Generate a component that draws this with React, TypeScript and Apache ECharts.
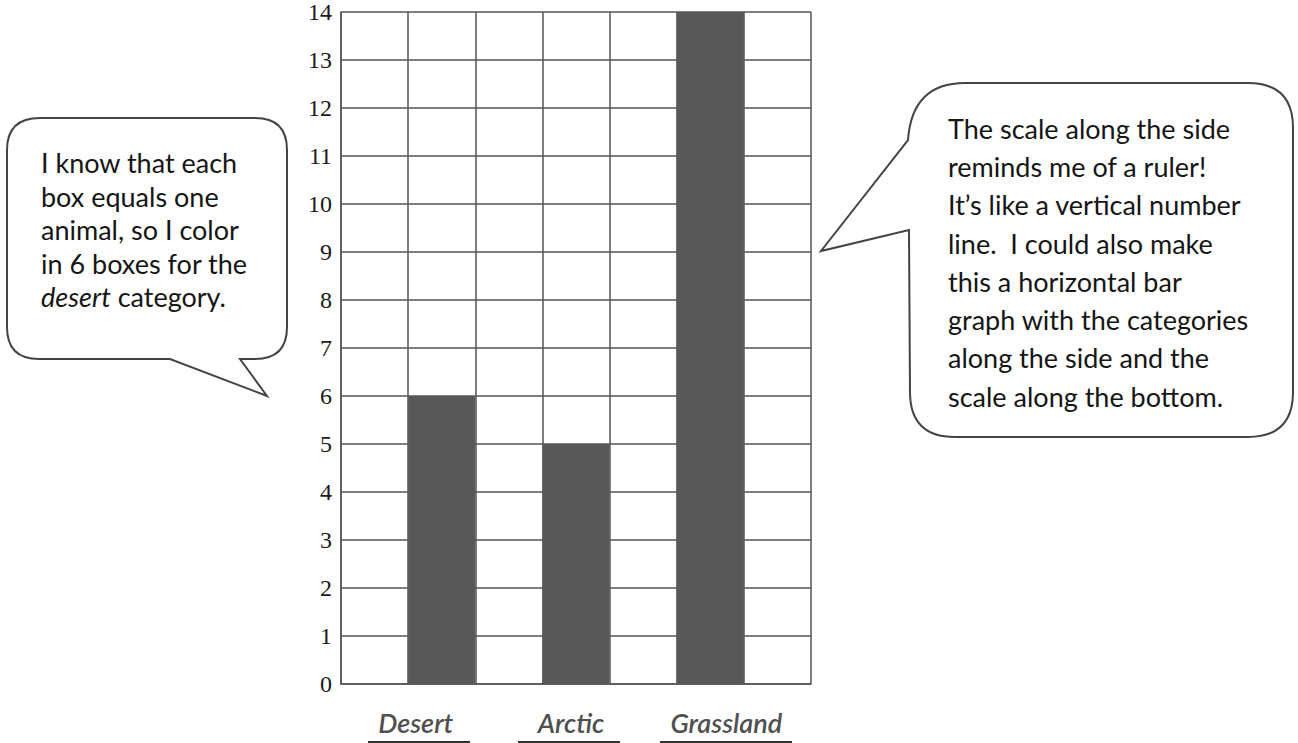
import React, { useEffect, useRef } from "react";
import * as echarts from "echarts";

const categories = ["", "Desert", "", "Arctic", "", "Grassland", ""];
const animalCounts: (number | string)[] = ["-", 6, "-", 5, "-", 14, "-"];
const yTicks = { min: 0, max: 14, interval: 1 };
// horizontal shift of each category label (px, + right)
const labelShift: Record<string, number> = { Desert: -26, Arctic: -5, Grassland: 16 };

const leftNote = [
  "I know that each",
  "box equals one",
  "animal, so I color",
  "in 6 boxes for the",
  "{i|desert} category.",
];
const rightNote = [
  "The scale along the side",
  "reminds me of a ruler!",
  "It\u2019s like a vertical number",
  "line.  I could also make",
  "this a horizontal bar",
  "graph with the categories",
  "along the side and the",
  "scale along the bottom.",
];

const leftBubble =
  "M 40 118 L 255 118 Q 287 118 287 150 L 287 327 Q 287 359 255 359 L 240 359 L 267 396 L 170 359 L 39 359 Q 7 359 7 327 L 7 150 Q 7 118 40 118 Z";
const rightBubble =
  "M 965 83 L 1248 83 Q 1293 83 1293 128 L 1293 392 Q 1293 437 1248 437 L 955 437 Q 910 437 910 392 L 909 230 L 821 251 L 908 140 Q 912 83 965 83 Z";

echarts.graphic.registerShape("bubbleLeft", echarts.graphic.extendPath(leftBubble, {}) as any);
echarts.graphic.registerShape("bubbleRight", echarts.graphic.extendPath(rightBubble, {}) as any);

const noteFont = "Lato, 'Open Sans', sans-serif";

export default function App() {
  const ref = useRef<HTMLDivElement>(null);
  useEffect(() => {
    if (!ref.current) return;
    const chart = echarts.init(ref.current, undefined, { renderer: "svg" });
    const lineColor = "#555555";
    chart.setOption({
      animation: false,
      backgroundColor: "#ffffff",
      grid: { left: 341, right: 487, top: 10, bottom: 59 },
      xAxis: {
        type: "category",
        data: categories,
        boundaryGap: true,
        axisLine: { show: true, lineStyle: { color: lineColor, width: 1.5 } },
        axisTick: { show: false },
        splitLine: { show: true, lineStyle: { color: lineColor, width: 1.5 } },
        axisLabel: {
          interval: 0,
          margin: 25,
          formatter: (v: string) => {
            if (!v) return "";
            const s = labelShift[v] || 0;
            return s < 0 ? `{l${-s * 2}|${v}}` : `{r${s * 2}|${v}}`;
          },
          rich: Object.fromEntries(
            Object.entries(labelShift).map(([, s]) => {
              const key = s < 0 ? `l${-s * 2}` : `r${s * 2}`;
              return [
                key,
                {
                  fontFamily: noteFont,
                  fontStyle: "italic",
                  fontWeight: 600,
                  fontSize: 27,
                  color: "#505050",
                  padding: s < 0 ? [0, -s * 2, 0, 0] : [0, 0, 0, s * 2],
                },
              ];
            })
          ),
        },
      },
      yAxis: {
        type: "value",
        min: yTicks.min,
        max: yTicks.max,
        interval: yTicks.interval,
        axisLine: { show: true, lineStyle: { color: lineColor, width: 1.5 } },
        axisTick: { show: false },
        splitLine: { show: true, lineStyle: { color: lineColor, width: 1.5 } },
        axisLabel: {
          margin: 9,
          color: "#1a1a1a",
          fontFamily: "'Liberation Serif', 'DejaVu Serif', serif",
          fontSize: 24,
        },
      },
      series: [
        {
          type: "bar",
          data: animalCounts,
          barWidth: "100%",
          itemStyle: { color: "#585858" },
        },
      ],
      graphic: [
        { type: "line", shape: { x1: 368, y1: 742, x2: 470, y2: 742 }, style: { stroke: "#333", lineWidth: 2 } },
        { type: "line", shape: { x1: 518, y1: 742, x2: 620, y2: 742 }, style: { stroke: "#333", lineWidth: 2 } },
        { type: "line", shape: { x1: 660, y1: 742, x2: 792, y2: 742 }, style: { stroke: "#333", lineWidth: 2 } },
        {
          type: "bubbleLeft",
          x: 0,
          y: 0,
          style: { fill: "#ffffff", stroke: "#444444", lineWidth: 2 },
        },
        {
          type: "bubbleRight",
          x: 0,
          y: 0,
          style: { fill: "#ffffff", stroke: "#444444", lineWidth: 2 },
        },
        {
          type: "text",
          x: 41,
          y: 146,
          style: {
            text: leftNote.join("\n"),
            fontFamily: noteFont,
            fontSize: 27,
            lineHeight: 33.5,
            fill: "#151515",
            textAlign: "left",
            textVerticalAlign: "top",
            rich: {
              i: { fontFamily: noteFont, fontSize: 27, lineHeight: 33.5, fontStyle: "italic", fill: "#151515" },
            },
          },
        },
        {
          type: "text",
          x: 948,
          y: 109,
          style: {
            text: rightNote.join("\n"),
            fontFamily: noteFont,
            fontSize: 27,
            lineHeight: 38.3,
            fill: "#151515",
            textAlign: "left",
            textVerticalAlign: "top",
          },
        },
      ],
    });
    return () => chart.dispose();
  }, []);
  return (
    <div
      ref={ref}
      style={{ position: "fixed", left: 0, top: 0, width: 1298, height: 743 }}
    />
  );
}
